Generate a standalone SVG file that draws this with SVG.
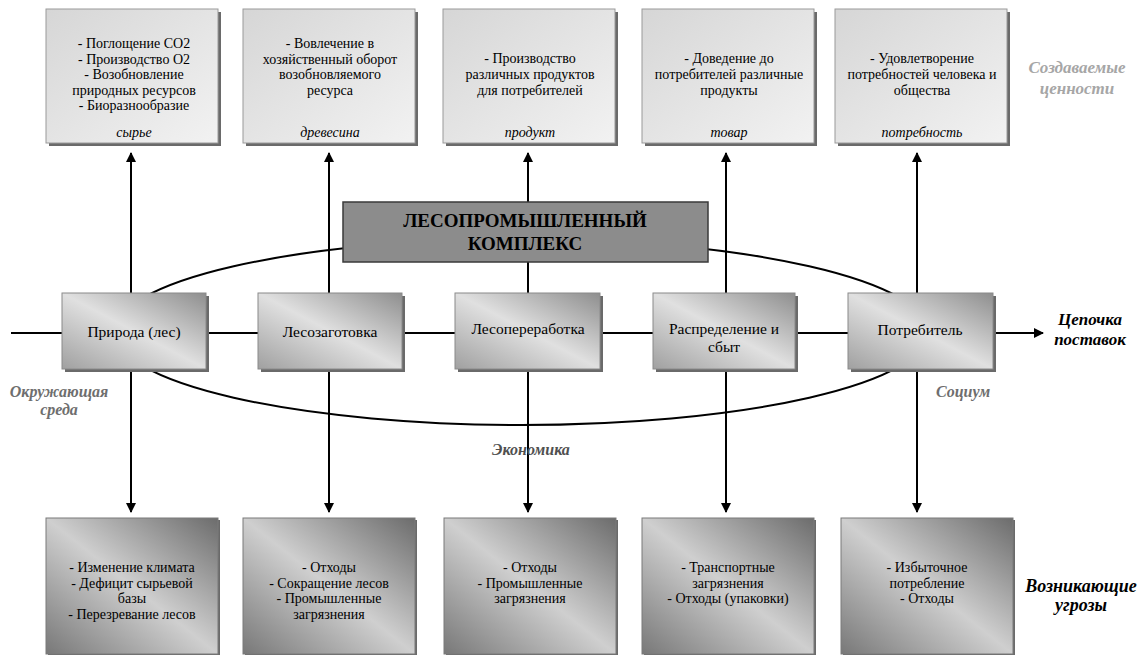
<svg xmlns="http://www.w3.org/2000/svg" width="1147" height="655" viewBox="0 0 1147 655" font-family="'Liberation Serif', 'DejaVu Serif', serif">
<style>
  text { font-family: "Liberation Serif", "DejaVu Serif", serif; fill: #000; text-anchor: middle; }
  .t { font-size: 14px; }
  .m { font-size: 15.5px; }
  .lab { font-size: 14px; font-style: italic; }
  .side { font-size: 16px; font-style: italic; font-weight: bold; }
  .big { font-size: 17px; }
  .title { font-size: 19px; font-weight: bold; }
  .shadow { fill: #6a6a6a; }
  .topbox { fill: url(#gTop); stroke: #9a9a9a; stroke-width: 1; }
  .midbox { fill: url(#gMid); stroke: #8a8a8a; stroke-width: 1; }
  .botbox { fill: url(#gBot); stroke: #7a7a7a; stroke-width: 1; }
  .ln { stroke: #000; stroke-width: 2; fill: none; }
</style>
<defs>
  <linearGradient id="gTop" x1="0" y1="0" x2="1" y2="1">
    <stop offset="0" stop-color="#d6d6d6"/>
    <stop offset="1" stop-color="#f2f2f2"/>
  </linearGradient>
  <linearGradient id="gMid" x1="0" y1="1" x2="1" y2="0">
    <stop offset="0" stop-color="#a0a0a0"/>
    <stop offset="0.5" stop-color="#e0e0e0"/>
    <stop offset="1" stop-color="#8e8e8e"/>
  </linearGradient>
  <linearGradient id="gBot" x1="0" y1="1" x2="1" y2="0">
    <stop offset="0" stop-color="#787878"/>
    <stop offset="0.5" stop-color="#cfcfcf"/>
    <stop offset="1" stop-color="#6c6c6c"/>
  </linearGradient>
  <marker id="arr" viewBox="0 0 10 10" refX="9" refY="5" markerWidth="5" markerHeight="5" orient="auto" markerUnits="strokeWidth">
    <path d="M0,0 L10,5 L0,10 Z" fill="#000"/>
  </marker>
</defs>

<g id="connectors">
  <ellipse class="ln" cx="521.5" cy="332" rx="407" ry="93"/>
  <line class="ln" x1="11" y1="333" x2="1043" y2="333" marker-end="url(#arr)"/>
  <line class="ln" x1="131" y1="293" x2="131" y2="153" marker-end="url(#arr)"/>
  <line class="ln" x1="329" y1="293" x2="329" y2="153" marker-end="url(#arr)"/>
  <line class="ln" x1="528" y1="293" x2="528" y2="153" marker-end="url(#arr)"/>
  <line class="ln" x1="726" y1="293" x2="726" y2="153" marker-end="url(#arr)"/>
  <line class="ln" x1="917" y1="293" x2="917" y2="153" marker-end="url(#arr)"/>
  <line class="ln" x1="131" y1="370" x2="131" y2="512" marker-end="url(#arr)"/>
  <line class="ln" x1="329" y1="370" x2="329" y2="512" marker-end="url(#arr)"/>
  <line class="ln" x1="528" y1="370" x2="528" y2="512" marker-end="url(#arr)"/>
  <line class="ln" x1="726" y1="370" x2="726" y2="512" marker-end="url(#arr)"/>
  <line class="ln" x1="917" y1="370" x2="917" y2="512" marker-end="url(#arr)"/>
</g>

<g id="val-1">
  <rect class="shadow" x="49" y="12" width="172" height="134"/>
  <rect class="topbox" x="46" y="9" width="172" height="134"/>
  <text class="t" x="134" y="48">- Поглощение CO2</text>
  <text class="t" x="134" y="63.5">- Производство O2</text>
  <text class="t" x="134" y="79">- Возобновление</text>
  <text class="t" x="134" y="94.5">природных ресурсов</text>
  <text class="t" x="134" y="110">- Биоразнообразие</text>
  <text class="lab" x="134" y="137">сырье</text>
</g>
<g id="val-2">
  <rect class="shadow" x="246" y="12" width="172" height="134"/>
  <rect class="topbox" x="243" y="9" width="172" height="134"/>
  <text class="t" x="330" y="48">- Вовлечение в</text>
  <text class="t" x="330" y="63.5">хозяйственный оборот</text>
  <text class="t" x="330" y="79">возобновляемого</text>
  <text class="t" x="330" y="94.5">ресурса</text>
  <text class="lab" x="330" y="137">древесина</text>
</g>
<g id="val-3">
  <rect class="shadow" x="446" y="12" width="172" height="134"/>
  <rect class="topbox" x="443" y="9" width="172" height="134"/>
  <text class="t" x="530" y="63">- Производство</text>
  <text class="t" x="530" y="79">различных продуктов</text>
  <text class="t" x="530" y="95">для потребителей</text>
  <text class="lab" x="530" y="137">продукт</text>
</g>
<g id="val-4">
  <rect class="shadow" x="645" y="12" width="172" height="134"/>
  <rect class="topbox" x="642" y="9" width="172" height="134"/>
  <text class="t" x="729" y="63">- Доведение до</text>
  <text class="t" x="729" y="79">потребителей различные</text>
  <text class="t" x="729" y="95">продукты</text>
  <text class="lab" x="729" y="137">товар</text>
</g>
<g id="val-5">
  <rect class="shadow" x="838" y="12" width="172" height="134"/>
  <rect class="topbox" x="835" y="9" width="172" height="134"/>
  <text class="t" x="922" y="63">- Удовлетворение</text>
  <text class="t" x="922" y="79">потребностей человека и</text>
  <text class="t" x="922" y="95">общества</text>
  <text class="lab" x="922" y="137">потребность</text>
</g>

<g id="complex">
  <rect x="343" y="202" width="365" height="60" fill="#8c8c8c" stroke="#3a3a3a" stroke-width="1.5"/>
  <text class="title" x="525" y="226.5">ЛЕСОПРОМЫШЛЕННЫЙ</text>
  <text class="title" x="525" y="249.5">КОМПЛЕКС</text>
</g>

<g id="nature">
  <rect class="shadow" x="65" y="296" width="144" height="76"/>
  <rect class="midbox" x="62" y="293" width="144" height="76"/>
  <text class="m" x="134" y="337">Природа (лес)</text>
</g>
<g id="logging">
  <rect class="shadow" x="261" y="296" width="144" height="76"/>
  <rect class="midbox" x="258" y="293" width="144" height="76"/>
  <text class="m" x="330" y="337">Лесозаготовка</text>
</g>
<g id="processing">
  <rect class="shadow" x="458" y="296" width="145" height="76"/>
  <rect class="midbox" x="455" y="293" width="145" height="76"/>
  <text class="m" x="528" y="334">Лесопереработка</text>
</g>
<g id="distribution">
  <rect class="shadow" x="656" y="296" width="142" height="76"/>
  <rect class="midbox" x="653" y="293" width="142" height="76"/>
  <text class="m" x="724" y="333.5">Распределение и</text>
  <text class="m" x="724" y="352">сбыт</text>
</g>
<g id="consumer">
  <rect class="shadow" x="851" y="296" width="145" height="76"/>
  <rect class="midbox" x="848" y="293" width="145" height="76"/>
  <text class="m" x="920" y="334.5">Потребитель</text>
</g>

<g id="thr-1">
  <rect class="shadow" x="48" y="520" width="172" height="136"/>
  <rect class="botbox" x="46" y="518" width="172" height="136"/>
  <text class="t" x="132" y="572">- Изменение климата</text>
  <text class="t" x="132" y="587.5">- Дефицит сырьевой</text>
  <text class="t" x="132" y="603">базы</text>
  <text class="t" x="132" y="618.5">- Перезревание лесов</text>
</g>
<g id="thr-2">
  <rect class="shadow" x="245" y="520" width="172" height="136"/>
  <rect class="botbox" x="243" y="518" width="172" height="136"/>
  <text class="t" x="329" y="572">- Отходы</text>
  <text class="t" x="329" y="587.5">- Сокращение лесов</text>
  <text class="t" x="329" y="603">- Промышленные</text>
  <text class="t" x="329" y="618.5">загрязнения</text>
</g>
<g id="thr-3">
  <rect class="shadow" x="446" y="520" width="172" height="136"/>
  <rect class="botbox" x="444" y="518" width="172" height="136"/>
  <text class="t" x="530" y="572">- Отходы</text>
  <text class="t" x="530" y="587.5">- Промышленные</text>
  <text class="t" x="530" y="603">загрязнения</text>
</g>
<g id="thr-4">
  <rect class="shadow" x="644" y="520" width="172" height="136"/>
  <rect class="botbox" x="642" y="518" width="172" height="136"/>
  <text class="t" x="728" y="572">- Транспортные</text>
  <text class="t" x="728" y="587.5">загрязнения</text>
  <text class="t" x="728" y="603">- Отходы (упаковки)</text>
</g>
<g id="thr-5">
  <rect class="shadow" x="843" y="520" width="172" height="136"/>
  <rect class="botbox" x="841" y="518" width="172" height="136"/>
  <text class="t" x="927" y="572">- Избыточное</text>
  <text class="t" x="927" y="587.5">потребление</text>
  <text class="t" x="927" y="603">- Отходы</text>
</g>

<g id="labels">
  <text class="side big" x="1077" y="73" style="fill:#a6a6a6">Создаваемые</text>
  <text class="side big" x="1077" y="94" style="fill:#a6a6a6">ценности</text>
  <text class="side big" x="1090" y="325">Цепочка</text>
  <text class="side big" x="1090" y="345">поставок</text>
  <text class="side" x="59" y="396.5" style="fill:#6e6e6e">Окружающая</text>
  <text class="side" x="59" y="414.5" style="fill:#6e6e6e">среда</text>
  <text class="side" x="963" y="396.5" style="fill:#6e6e6e">Социум</text>
  <text class="side" x="531" y="454.5" style="fill:#505050">Экономика</text>
  <text class="side" x="1081" y="592" style="font-size:18px">Возникающие</text>
  <text class="side" x="1081" y="611" style="font-size:18px">угрозы</text>
</g>
</svg>
